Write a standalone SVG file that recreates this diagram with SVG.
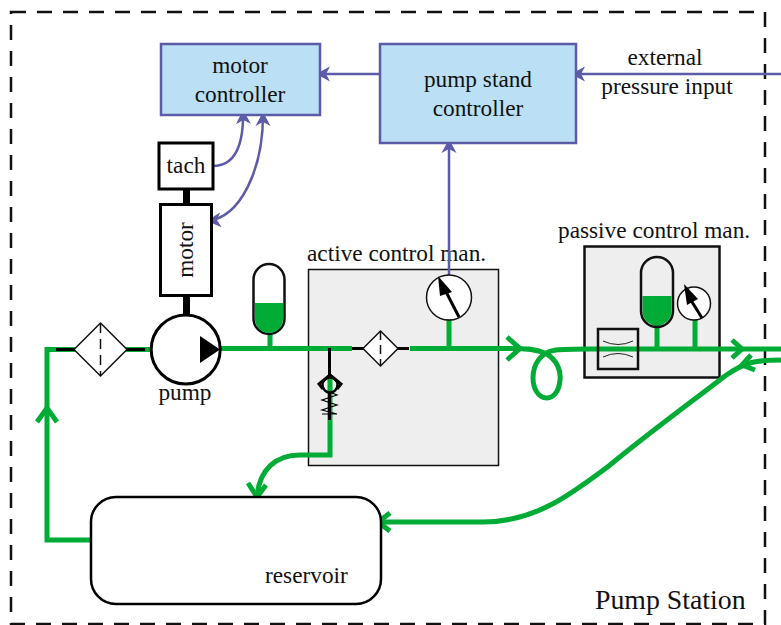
<svg xmlns="http://www.w3.org/2000/svg" width="781" height="625" viewBox="0 0 781 625">
<style>
text{font-family:"Liberation Serif","Times New Roman",serif;font-size:23.300px;fill:#111}
.ctl{fill:#bbdff4;stroke:#5b5ba8;stroke-width:2.500}
.blk{fill:#fff;stroke:#000;stroke-width:3}
.panel{fill:#eee;stroke:#111;stroke-width:1.500}
.g{fill:none;stroke:#00ac35;stroke-width:5}
.sig{fill:none;stroke:#5b5ba8;stroke-width:2.500}
.k{fill:none;stroke:#000;stroke-width:3}
.thin{fill:#fff;stroke:#111;stroke-width:1.500}
</style>
<defs>
<marker id="sa" markerUnits="userSpaceOnUse" markerWidth="20" markerHeight="20" refX="15" refY="10" orient="auto"><path d="M15 10L1 2.500L5 10L1 17.500Z" fill="#5b5ba8"/></marker>
</defs>
<rect id="station" x="11" y="12" width="754" height="612" fill="none" stroke="#111" stroke-width="2.500" stroke-dasharray="15 11"/>
<g id="active-panel"><rect class="panel" x="308.500" y="269.500" width="190" height="196"/><text x="307" y="261">active control man.</text></g>
<g id="passive-panel"><rect class="panel" x="584.500" y="246.500" width="135" height="131" style="stroke-width:2.500"/><text x="558" y="238">passive control man.</text></g>
<g id="connectors">
<path class="g" d="M91 540H47V349.500H150"/>
<path class="g" d="M37 422L47 408L57 422"/>
<path class="g" d="M220 348.500H352M410 348.500H505C525 348 535 349 545 353C558 360 561 372 560 380C559 392 553 398 547 398C538 398 533 388 533 378C533 365 540 352 556 350C565 349 575 349 590 349H781"/>
<path class="g" d="M507 337L520 348.500L507 360"/>
<path class="g" d="M732 340L742 349L732 358"/>
<path class="g" d="M781 360C755 360 745 362 725 376C690 403 650 432 610 465C570 495 535 522 483 522H380"/>
<path class="g" d="M751 355L742 365L755 370"/>
<path class="g" d="M390 513L378 522L390 531"/>
<path class="g" d="M330 378V455H300C275 455 260 470 257 495"/>
<path class="g" d="M248 483L257 497L266 485"/>
<path class="g" d="M270 330V349M449 318V349M657 325V349M695 319V349"/>
<path class="sig" d="M380 74H316" marker-end="url(#sa)"/>
<path class="sig" d="M781 74H571" marker-end="url(#sa)"/>
<path class="sig" d="M449 276V139" marker-end="url(#sa)"/>
<path class="sig" d="M213 166C235 166 244 145 243 110" marker-end="url(#sa)"/>
<path class="sig" d="M263 110C264 170 240 218 207 221" marker-end="url(#sa)"/>
<path class="sig" d="M263 112V110" marker-start="url(#sa)"/>
</g>
<g id="motor-controller"><rect class="ctl" x="161" y="44" width="159" height="71"/><text x="240" y="73" text-anchor="middle">motor</text><text x="240" y="102" text-anchor="middle">controller</text></g>
<g id="pump-stand-controller"><rect class="ctl" x="380" y="44" width="196" height="99"/><text x="478" y="87" text-anchor="middle">pump stand</text><text x="478" y="116" text-anchor="middle">controller</text></g>
<g id="external"><text x="665" y="65" text-anchor="middle">external</text><text x="667" y="94" text-anchor="middle">pressure input</text></g>
<g id="shafts"><rect x="183" y="189" width="7" height="15"/><rect x="183" y="296" width="7" height="20"/></g>
<g id="tach"><rect class="blk" x="159" y="143" width="54" height="46"/><text x="186" y="173" text-anchor="middle">tach</text></g>
<g id="motor"><rect class="blk" x="160.500" y="204.500" width="51" height="91"/><text transform="translate(193 250) rotate(-90)" text-anchor="middle">motor</text></g>
<g id="pump"><circle class="blk" cx="185.700" cy="349.500" r="34.500"/><path d="M200 336V363L220 349.500Z"/><text x="185" y="400" text-anchor="middle">pump</text></g>
<g id="filter-main"><path class="k" d="M56 349.500H76M125 349.500H145"/><path class="thin" d="M100.500 323L127 349.500L100.500 376L74 349.500Z"/><path d="M100.500 323V376" stroke="#111" stroke-width="1.500" stroke-dasharray="10 6" fill="none"/></g>
<g id="accumulator-main"><rect x="253.500" y="264" width="31" height="70" rx="15.500" fill="#fff" stroke="#111" stroke-width="2.500"/><path d="M255 303H283V319A14 14 0 0 1 255 319Z" fill="#00ac35"/></g>
<g id="gauge-active"><circle class="thin" cx="449" cy="297.500" r="22.500"/><path d="M459 317L443 286" stroke="#000" stroke-width="3"/><path d="M438 276L452 292L440 296Z"/></g>
<g id="filter-active"><path class="k" d="M352 348.500H366M395 348.500H409"/><path class="thin" d="M380.500 331L398 348.500L380.500 366L363 348.500Z"/><path d="M380.500 331V366" stroke="#111" stroke-width="1.500" stroke-dasharray="9 5" fill="none"/></g>
<g id="check-valve"><path class="k" d="M329.500 348V376M329.500 392V420"/><path d="M323 389L319 384L330 375L341 384L337 389" fill="none" stroke="#000" stroke-width="3"/><circle cx="330" cy="385" r="7.500" fill="none" stroke="#000" stroke-width="2.500"/><path d="M329.500 392L337 395L322 400L337 405L322 410L337 414L322 414" fill="none" stroke="#000" stroke-width="1.200"/></g>
<g id="accumulator-passive"><path d="M642.500 296H671.500V311A14.500 14.500 0 0 1 642.500 311Z" fill="#00ac35"/><rect x="641" y="257" width="32" height="70" rx="16" fill="none" stroke="#111" stroke-width="2.500"/></g>
<g id="gauge-passive"><circle class="thin" cx="694" cy="303.500" r="16.500"/><path d="M702 318L689 297" stroke="#000" stroke-width="3"/><path d="M684 284L698 299L687 305Z"/></g>
<g id="restrictor"><rect x="598" y="329" width="40" height="40" fill="none" stroke="#111" stroke-width="2.500"/><path d="M603 341Q618 348 633 341M603 357Q618 350 633 357" fill="none" stroke="#222" stroke-width="1"/></g>
<g id="reservoir"><rect x="91" y="497" width="290" height="107" rx="25" fill="#fff" stroke="#000" stroke-width="2.500"/><text x="265" y="583">reservoir</text></g>
<text id="label-station" x="595" y="609" style="font-size:27.800px">Pump Station</text>
</svg>
